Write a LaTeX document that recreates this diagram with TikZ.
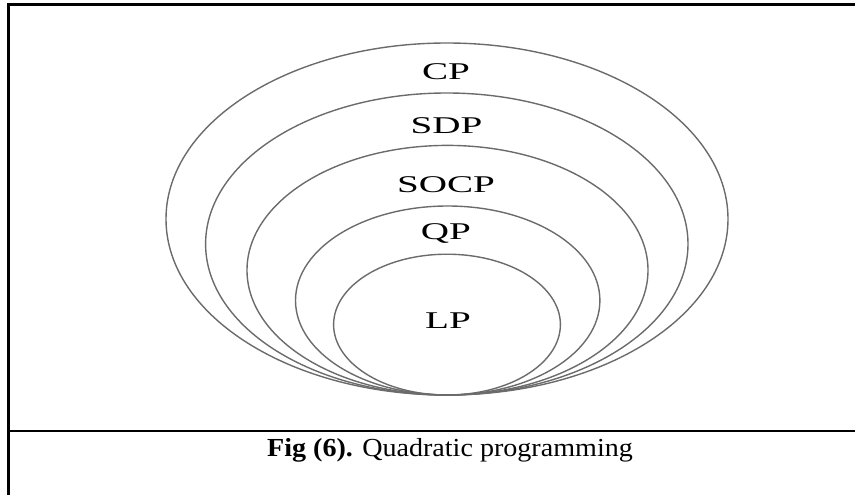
\documentclass[tikz,border=0pt]{standalone}
\usepackage{fontspec}
\setmainfont{Liberation Serif}
\begin{document}
\begin{tikzpicture}[x=1pt,y=-1pt,
  ring/.style={draw=black!58, line width=1.4pt},
  lab/.style={font=\fontsize{24}{24}\selectfont, xscale=1.63, anchor=base, inner sep=0pt},
  frameline/.style={line width=2.5pt, draw=black},
  ticks/.style={draw=black!45, line width=1.3pt, dash pattern=on 0.9pt off 5.8pt}]
\useasboundingbox (0,0) rectangle (855,495);
% frame
\coordinate (fbl) at (8.7,495);
\coordinate (ftl) at (8.7,4.7);
\coordinate (ftr) at (855,4.7);
\coordinate (sl) at (8.7,431);
\coordinate (sr) at (855,431);
\coordinate (tkt) at (7.2,6);
\coordinate (tkb) at (7.2,495);
\draw[ticks] (tkt) -- (tkb);
\draw[frameline] (fbl) -- (ftl) -- (ftr);
\draw[frameline] (sl) -- (sr);
% nested sets
\draw[ring] (447,219) ellipse [x radius=281pt, y radius=176pt];
\draw[ring] (446.8,244) ellipse [x radius=241.2pt, y radius=151pt];
\draw[ring] (447.5,270.2) ellipse [x radius=200.5pt, y radius=124.8pt];
\draw[ring] (447.7,300.5) ellipse [x radius=152.2pt, y radius=94.5pt];
\draw[ring] (447,324.6) ellipse [x radius=113.4pt, y radius=70.4pt];
% labels
\node[lab] (cp) at (446,80) {CP};
\node[lab] (sdp) at (446.5,133) {SDP};
\node[lab] (socp) at (446,192) {SOCP};
\node[lab] (qp) at (446,239) {QP};
\node[lab] (lp) at (448,328) {LP};
% caption
\node[font=\fontsize{26}{26}\selectfont, xscale=1.08, anchor=base, inner sep=0pt] (cap) at (450,456.5) {\textbf{Fig (6).} Quadratic programming};
\end{tikzpicture}
\end{document}
